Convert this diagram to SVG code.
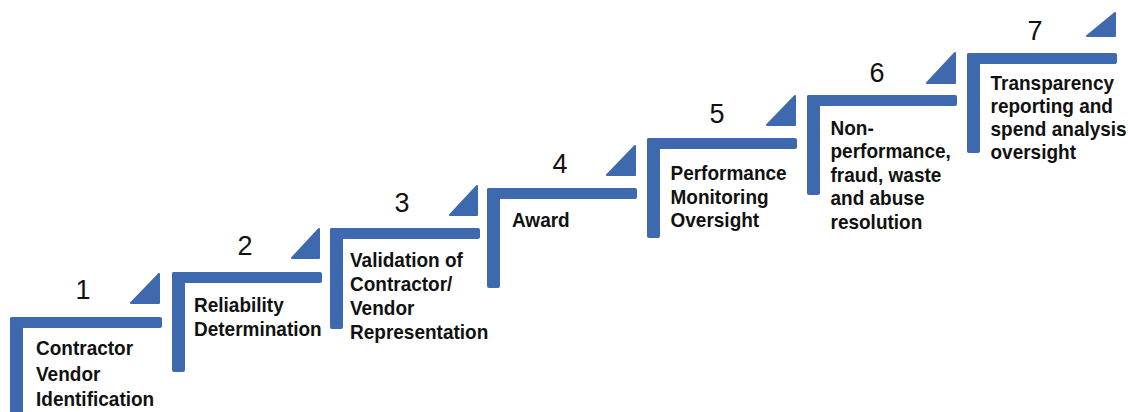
<svg xmlns="http://www.w3.org/2000/svg" width="1128" height="412" viewBox="0 0 1128 412">
<style>
.bar{fill:#3f69ae}
.tri{fill:#3f69ae;stroke:#3f69ae;stroke-width:2;stroke-linejoin:round}
.num{font-family:"Liberation Sans",Arial,sans-serif;font-size:27px;fill:#111;text-anchor:middle}
.lbl{font-family:"Liberation Sans",Arial,sans-serif;font-size:20px;font-weight:bold;fill:#111}
</style>
<rect width="1128" height="412" fill="#ffffff"/>
<g id="step1">
<rect class="bar" x="10" y="317" width="152" height="11" rx="2"/>
<rect class="bar" x="10" y="317" width="13" height="110" rx="2"/>
<polygon class="tri" points="159,274 159,303 131,303"/>
<text class="num" x="83" y="299">1</text>
<g transform="translate(36,0) scale(0.95,1)">
<text class="lbl" x="0" y="355.5">Contractor</text>
<text class="lbl" x="0" y="381">Vendor</text>
<text class="lbl" x="0" y="406">Identification</text>
</g>
</g>
<g id="step2">
<rect class="bar" x="172" y="272" width="150" height="11" rx="2"/>
<rect class="bar" x="172" y="272" width="13" height="100" rx="2"/>
<polygon class="tri" points="319,229 319,258 292,258"/>
<text class="num" x="245" y="255">2</text>
<g transform="translate(194,0) scale(0.95,1)">
<text class="lbl" x="0" y="312.5">Reliability</text>
<text class="lbl" x="0" y="336.5">Determination</text>
</g>
</g>
<g id="step3">
<rect class="bar" x="330" y="228" width="150" height="11" rx="2"/>
<rect class="bar" x="330" y="228" width="13" height="101" rx="2"/>
<polygon class="tri" points="477,186 477,215 450,215"/>
<text class="num" x="402" y="212">3</text>
<g transform="translate(350,0) scale(0.95,1)">
<text class="lbl" x="0" y="267.5">Validation of</text>
<text class="lbl" x="0" y="291.5">Contractor/</text>
<text class="lbl" x="0" y="315.5">Vendor</text>
<text class="lbl" x="0" y="339.5">Representation</text>
</g>
</g>
<g id="step4">
<rect class="bar" x="487" y="188" width="150" height="11" rx="2"/>
<rect class="bar" x="487" y="188" width="13" height="100" rx="2"/>
<polygon class="tri" points="635,146 635,175 607,175"/>
<text class="num" x="560" y="173">4</text>
<g transform="translate(512,0) scale(0.95,1)">
<text class="lbl" x="0" y="227">Award</text>
</g>
</g>
<g id="step5">
<rect class="bar" x="647" y="138" width="150" height="11" rx="2"/>
<rect class="bar" x="647" y="138" width="13" height="100" rx="2"/>
<polygon class="tri" points="795,96 795,125 767,125"/>
<text class="num" x="717" y="123">5</text>
<g transform="translate(670.5,0) scale(0.95,1)">
<text class="lbl" x="0" y="180.5">Performance</text>
<text class="lbl" x="0" y="204">Monitoring</text>
<text class="lbl" x="0" y="227.5">Oversight</text>
</g>
</g>
<g id="step6">
<rect class="bar" x="807" y="95" width="150" height="11" rx="2"/>
<rect class="bar" x="807" y="95" width="13" height="100" rx="2"/>
<polygon class="tri" points="955,53 955,83 927,83"/>
<text class="num" x="877" y="82">6</text>
<g transform="translate(830.5,0) scale(0.95,1)">
<text class="lbl" x="0" y="135">Non-</text>
<text class="lbl" x="0" y="158.5">performance,</text>
<text class="lbl" x="0" y="182">fraud, waste</text>
<text class="lbl" x="0" y="205.5">and abuse</text>
<text class="lbl" x="0" y="229">resolution</text>
</g>
</g>
<g id="step7">
<rect class="bar" x="967" y="53" width="150" height="11" rx="2"/>
<rect class="bar" x="967" y="53" width="13" height="100" rx="2"/>
<polygon class="tri" points="1115,13 1115,36 1087,36"/>
<text class="num" x="1035" y="40">7</text>
<g transform="translate(990.5,0) scale(0.95,1)">
<text class="lbl" x="0" y="90">Transparency</text>
<text class="lbl" x="0" y="113">reporting and</text>
<text class="lbl" x="0" y="136">spend analysis</text>
<text class="lbl" x="0" y="159">oversight</text>
</g>
</g>
<g id="connectors"></g>
</svg>
